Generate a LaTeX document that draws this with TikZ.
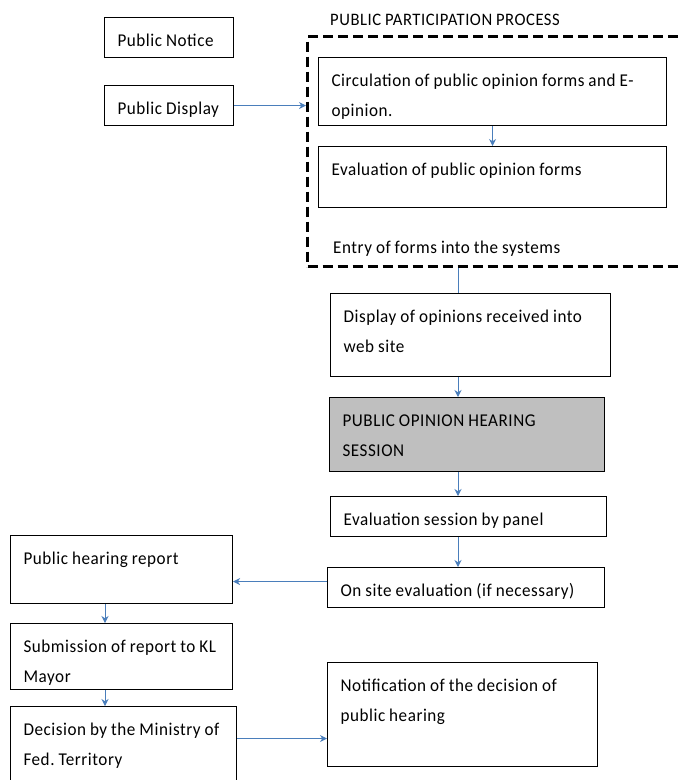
\documentclass[tikz,border=0pt]{standalone}
\usepackage{fontspec}
\setmainfont[FakeStretch=0.95,WordSpace=0.9,LetterSpace=3]{Carlito}
\usetikzlibrary{arrows.meta}
\definecolor{lineblue}{RGB}{74,126,187}
\definecolor{hearinggray}{RGB}{191,191,191}
\frenchspacing
\begin{document}
\begin{tikzpicture}[x=1pt,y=-1pt,
    every node/.style={font=\fontsize{18}{30}\selectfont,execute at begin node={\spaceskip=0pt\relax}},
    flowbox/.style 2 args={draw,line width=1.1pt,anchor=north west,align=left,inner xsep=13pt,inner ysep=0pt,text height=29pt,text width=#1,text depth=#2},
    dashframe/.style={draw,line width=3pt,dash pattern=on 10pt off 5pt,anchor=north west,inner sep=0pt},
    arr/.style={draw=lineblue,line width=1pt,-{Stealth[length=7pt,width=7pt]}},
    link/.style={draw=lineblue,line width=1pt}]
  \useasboundingbox (0,0) rectangle (680,780);
  \clip (0,0) rectangle (680,780);
  \node[flowbox={103pt}{11pt}] (notice) at (104,17) {Public Notice};
  \node[flowbox={103pt}{11pt}] (display) at (104,85) {Public Display};
  \node[dashframe,minimum width=400pt,minimum height=230pt] (frame) at (306,35) {};
  \node[anchor=base west,inner sep=0pt,font=\fontsize{17.5}{20}\selectfont] (title) at (330,25) {PUBLIC PARTICIPATION PROCESS};
  \node[flowbox={322pt}{39pt}] (circ) at (318,57) {Circulation of public opinion forms and E-\\opinion.};
  \node[flowbox={322pt}{32pt}] (evalforms) at (318,146) {Evaluation of public opinion forms};
  \node[anchor=base west,inner sep=0pt] (entry) at (333,253) {Entry of forms into the systems};
  \node[flowbox={254pt}{54pt}] (webdisp) at (330,293) {Display of opinions received into\\web site};
  \node[flowbox={249pt}{45pt},fill=hearinggray] (hearing) at (329,397) {PUBLIC OPINION HEARING\\SESSION};
  \node[flowbox={250pt}{11pt}] (panel) at (330,496) {Evaluation session by panel};
  \node[flowbox={251pt}{11pt}] (onsite) at (327,567) {On site evaluation (if necessary)};
  \node[flowbox={196pt}{39pt}] (report) at (10,535) {Public hearing report};
  \node[flowbox={196pt}{37pt}] (submit) at (10,623) {Submission of report to KL\\Mayor};
  \node[flowbox={200pt}{51pt}] (decide) at (10,706) {Decision by the Ministry of\\Fed. Territory};
  \node[flowbox={244pt}{75pt}] (notify) at (327,662) {Notification of the decision of\\public hearing};
  \coordinate (spine) at (458,0);
  \coordinate (stem) at (105,0);
  \draw[arr] (display.east) -- (display.east -| frame.west);
  \draw[arr] (circ.south) -- (evalforms.north);
  \draw[link] (frame.south -| spine) -- (webdisp.north -| spine);
  \draw[arr] (webdisp.south -| spine) -- (hearing.north -| spine);
  \draw[arr] (hearing.south -| spine) -- (panel.north -| spine);
  \draw[arr] (panel.south -| spine) -- (onsite.north -| spine);
  \draw[arr] ([yshift=6pt]onsite.west) -- ([yshift=6pt]onsite.west -| report.east);
  \draw[arr] (report.south -| stem) -- (submit.north -| stem);
  \draw[arr] (submit.south -| stem) -- (decide.north -| stem);
  \draw[arr] ([yshift=8pt]decide.east) -- ([yshift=8pt]decide.east -| notify.west);
\end{tikzpicture}
\end{document}
